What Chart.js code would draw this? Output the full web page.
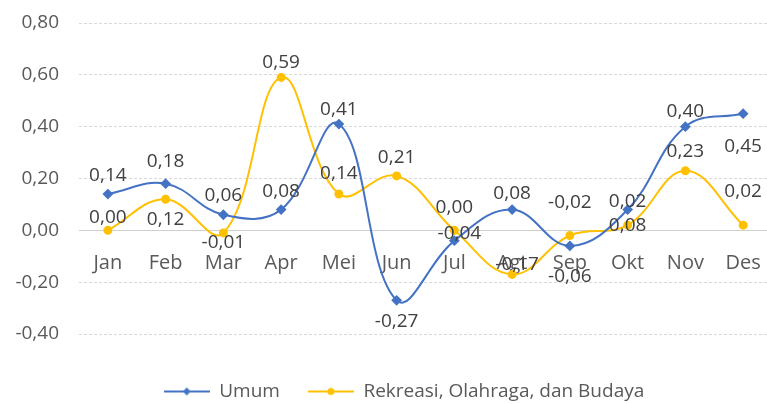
<!DOCTYPE html>
<html>
<head>
<meta charset="utf-8">
<script src="https://cdn.jsdelivr.net/npm/chart.js@4/dist/chart.umd.min.js"></script>
<style>
    html, body { margin: 0; padding: 0; background: #fff; overflow: hidden; }
    /* the original plot runs a few pixels past the right edge of the picture */
    #wrap { width: 772px; height: 404px; position: relative; }
</style>
</head>
<body>
<div id="wrap"><canvas id="chart"></canvas></div>
<script>
// Data
const months = ['Jan', 'Feb', 'Mar', 'Apr', 'Mei', 'Jun', 'Jul', 'Agt', 'Sep', 'Okt', 'Nov', 'Des'];
const umum = [0.14, 0.18, 0.06, 0.08, 0.41, -0.27, -0.04, 0.08, -0.06, 0.08, 0.40, 0.45];
const rekreasi = [0.00, 0.12, -0.01, 0.59, 0.14, 0.21, 0.00, -0.17, -0.02, 0.02, 0.23, 0.02];
const yTicks = [0.8, 0.6, 0.4, 0.2, 0, -0.2, -0.4];

// vertical shift (px) of each value label from its point, as placed in the original
const umumLabelDy = [-18, -22, -19, -18, -14, 21, -7, -16, 31, 16, -15, 33];
const rekreasiLabelDy = [-13, 20, 10, -15, -20, -18, -23, -10, -33, -24, -19, -34];

const BLUE = '#4472C4';
const GOLD = '#FFC000';
const FONT = '"Open Sans", sans-serif';

function fmt(v) {
    return v.toFixed(2).replace('.', ',');
}

// small line + marker picture for the legend
function legendSwatch(color, style) {
    const c = document.createElement('canvas');
    c.width = 46;
    c.height = 12;
    const ctx = c.getContext('2d');
    ctx.strokeStyle = color;
    ctx.lineWidth = 2;
    ctx.beginPath();
    ctx.moveTo(0, 6);
    ctx.lineTo(46, 6);
    ctx.stroke();
    ctx.fillStyle = color;
    ctx.beginPath();
    if (style === 'diamond') {
        ctx.moveTo(23, 2); ctx.lineTo(27, 6); ctx.lineTo(23, 10); ctx.lineTo(19, 6);
    } else {
        ctx.arc(23, 6, 3.5, 0, Math.PI * 2);
    }
    ctx.closePath();
    ctx.fill();
    return c;
}

const valueLabels = {
    id: 'valueLabels',
    afterDatasetsDraw(chart) {
        const ctx = chart.ctx;
        const shifts = [umumLabelDy, rekreasiLabelDy];
        ctx.save();
        ctx.font = '19px ' + FONT;
        ctx.fillStyle = '#404040';
        ctx.textAlign = 'center';
        ctx.textBaseline = 'middle';
        chart.data.datasets.forEach((ds, i) => {
            const meta = chart.getDatasetMeta(i);
            meta.data.forEach((pt, j) => {
                const dy = shifts[i][j];
                // the two labels that sit almost on their point lean a bit to the right
                const dx = Math.abs(dy) < 12 && dy < 0 ? 5 : 0;
                ctx.fillText(fmt(ds.data[j]), pt.x + dx, pt.y + dy);
            });
        });
        ctx.restore();
    }
};

// move the legend to where the original has it
const legendShift = {
    id: 'legendShift',
    afterLayout(chart) {
        const lg = chart.legend;
        if (lg) {
            lg.top += 20;
            lg.bottom += 20;
            lg.left += 18;
            lg.right += 18;
        }
    }
};

const ctx = document.getElementById('chart').getContext('2d');
const chart = new Chart(ctx, {
    type: 'line',
    data: {
        labels: months,
        datasets: [{
            label: 'Umum',
            data: umum,
            borderColor: BLUE,
            backgroundColor: BLUE,
            borderWidth: 2,
            pointStyle: 'rectRot',
            pointRadius: 4,
            tension: 0.4,
            legendSwatch: legendSwatch(BLUE, 'diamond')
        }, {
            label: 'Rekreasi, Olahraga, dan Budaya',
            data: rekreasi,
            borderColor: GOLD,
            backgroundColor: GOLD,
            borderWidth: 2,
            pointStyle: 'circle',
            pointRadius: 3.5,
            tension: 0.4,
            legendSwatch: legendSwatch(GOLD, 'circle')
        }]
    },
    options: {
        responsive: true,
        maintainAspectRatio: false,
        animation: false,
        layout: {
            autoPadding: false,
            padding: { top: 23, right: 0, bottom: 13, left: 0 }
        },
        plugins: {
            tooltip: { enabled: false },
            legend: {
                position: 'bottom',
                labels: {
                    usePointStyle: true,
                    pointStyleWidth: 46,
                    color: '#595959',
                    font: { family: FONT, size: 19 },
                    padding: 28,
                    generateLabels(chart) {
                        return chart.data.datasets.map((ds, i) => ({
                            text: ds.label,
                            pointStyle: ds.legendSwatch,
                            fillStyle: ds.borderColor,
                            strokeStyle: ds.borderColor,
                            fontColor: '#595959',
                            lineWidth: 0,
                            hidden: false,
                            datasetIndex: i
                        }));
                    }
                }
            }
        },
        scales: {
            x: {
                position: { y: 0 },
                offset: true,
                afterFit(scale) {
                    scale.paddingLeft = 0;
                    scale.paddingRight = 0;
                },
                grid: { display: false, drawTicks: false },
                border: { display: true, color: '#d0d0d0', width: 1 },
                ticks: {
                    color: '#595959',
                    padding: 21,
                    font: { family: FONT, size: 20 }
                }
            },
            y: {
                min: -0.4,
                max: 0.8,
                afterBuildTicks(scale) {
                    scale.ticks = yTicks.map(v => ({ value: v }));
                },
                afterFit(scale) {
                    scale.width = 79;
                    scale.paddingTop = 0;
                    scale.paddingBottom = 0;
                },
                grid: {
                    color: ctx => ctx.tick && ctx.tick.value === 0 ? 'rgba(0,0,0,0)' : '#d9d9d9',
                    drawTicks: false
                },
                border: { display: false, dash: [3, 2] },
                ticks: {
                    color: '#595959',
                    padding: 20,
                    font: { family: FONT, size: 19 },
                    callback: v => fmt(v)
                }
            }
        }
    },
    plugins: [valueLabels, legendShift]
});
</script>
</body>
</html>
